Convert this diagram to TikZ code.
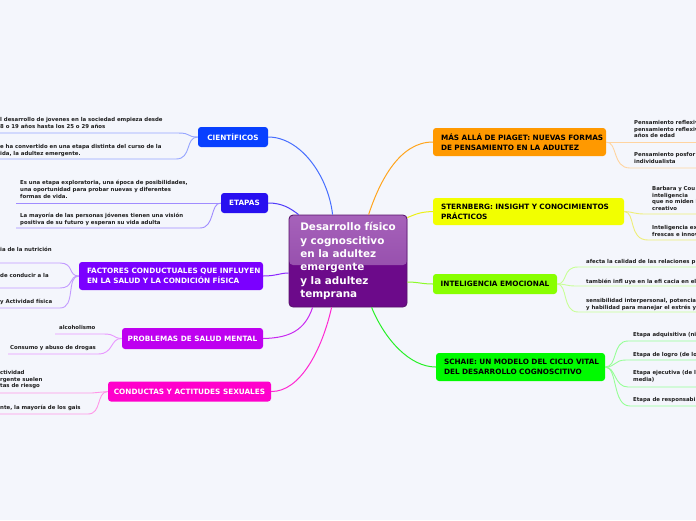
\documentclass[tikz,border=0pt]{standalone}
\usepackage{fontspec}
\setsansfont{DejaVu Sans}
\definecolor{bg}{RGB}{244,246,252}
\definecolor{ctopA}{RGB}{166,98,186}
\definecolor{ctopB}{RGB}{140,66,164}
\definecolor{cbot}{RGB}{108,10,138}
\definecolor{cbord}{RGB}{86,16,106}
\definecolor{csci}{RGB}{8,64,255}
\definecolor{ceta}{RGB}{40,16,240}
\definecolor{cfac}{RGB}{123,0,255}
\definecolor{cpro}{RGB}{190,0,240}
\definecolor{ccon}{RGB}{255,0,204}
\definecolor{cpia}{RGB}{255,153,0}
\definecolor{cste}{RGB}{242,255,0}
\definecolor{cemo}{RGB}{136,255,0}
\definecolor{csch}{RGB}{0,250,0}
\definecolor{lsci}{RGB}{70,110,255}
\definecolor{leta}{RGB}{80,60,250}
\definecolor{lfac}{RGB}{140,40,255}
\definecolor{lpro}{RGB}{200,40,240}
\definecolor{lcon}{RGB}{255,40,210}
\definecolor{lpia}{RGB}{255,165,30}
\definecolor{lste}{RGB}{236,240,20}
\definecolor{lemo}{RGB}{140,250,40}
\definecolor{lsch}{RGB}{40,240,40}
\definecolor{ssci}{RGB}{150,165,255}
\definecolor{seta}{RGB}{160,140,255}
\definecolor{sfac}{RGB}{195,155,255}
\definecolor{spro}{RGB}{232,150,255}
\definecolor{scon}{RGB}{255,150,232}
\definecolor{spia}{RGB}{255,212,160}
\definecolor{sste}{RGB}{238,238,120}
\definecolor{semo}{RGB}{200,255,150}
\definecolor{ssch}{RGB}{150,255,150}
\definecolor{txt}{RGB}{30,30,30}
\begin{document}
\begin{tikzpicture}[x=1pt,y=-1pt,
  mbox/.style={rectangle, rounded corners=3pt, inner sep=0pt, font=\sffamily\bfseries\fontsize{7.3}{10}\selectfont},
  mbox2/.style={mbox, inner xsep=8pt, align=left},
  ct/.style={inner sep=0pt, anchor=north west, align=left, text=txt, font=\sffamily\bfseries\fontsize{5.4}{6.8}\selectfont},
  link/.style={line width=1pt},
  sub/.style={line width=0.9pt}]
\useasboundingbox (0,0) rectangle (696,520);
\fill[bg] (0,0) rectangle (696,520);
\clip (0,0) rectangle (696,520);

% central node
\node[draw=cbord, line width=0.8pt, fill=cbot, rounded corners=4pt,
  minimum width=118pt, minimum height=92pt, inner sep=0pt, text=white, align=left,
  font=\sffamily\bfseries\fontsize{10.4}{13.3}\selectfont,
  path picture={\shade[top color=ctopA, bottom color=ctopB]
     (path picture bounding box.north west) rectangle ([yshift=-50pt]path picture bounding box.north east);}]
  (c) at (348,261) {Desarrollo físico\\y cognoscitivo\\en la adultez\\emergente\\y la adultez\\temprana};

% main boxes
\node[mbox, fill=csci, text=white, minimum width=70pt, minimum height=20pt] (sci) at (233,137) {CIENTÍFICOS};
\node[mbox, fill=ceta, text=white, minimum width=47pt, minimum height=20pt] (eta) at (244.5,203) {ETAPAS};
\node[mbox2, fill=cfac, text=white, text width=168pt, minimum height=28pt] (fac) at (171,276)
  {\mbox{FACTORES CONDUCTUALES QUE INFLUYEN}\\\mbox{EN LA SALUD Y LA CONDICIÓN FÍSICA}};
\node[mbox, fill=cpro, text=white, minimum width=141pt, minimum height=21pt] (pro) at (192.5,338.5) {PROBLEMAS DE SALUD MENTAL};
\node[mbox, fill=ccon, text=white, minimum width=163pt, minimum height=20pt] (con) at (189.5,391.5) {CONDUCTAS Y ACTITUDES SEXUALES};
\node[mbox2, fill=cpia, text=black, text width=157pt, minimum height=28pt] (pia) at (519.5,142)
  {\mbox{MÁS ALLÁ DE PIAGET: NUEVAS FORMAS}\\\mbox{DE PENSAMIENTO EN LA ADULTEZ}};
\node[mbox2, fill=cste, text=black, text width=175pt, minimum height=27pt] (ste) at (528.5,211.5)
  {\mbox{STERNBERG: INSIGHT Y CONOCIMIENTOS}\\\mbox{PRÁCTICOS}};
\node[mbox, fill=cemo, text=black, minimum width=124pt, minimum height=20pt] (emo) at (495,284) {INTELIGENCIA EMOCIONAL};
\node[mbox2, fill=csch, text=black, text width=153pt, minimum height=28pt] (sch) at (520.5,367)
  {\mbox{SCHAIE: UN MODELO DEL CICLO VITAL}\\\mbox{DEL DESARROLLO COGNOSCITIVO}};

% child texts, left
\node[ct] (s1) at (0,117) {l desarrollo de jovenes en la sociedad empieza desde\\8 o 19 años hasta los 25 o 29 años};
\node[ct] (s2) at (0,144) {e ha convertido en una etapa distinta del curso de la\\ida, la adultez emergente.};
\node[ct] (e1) at (20,180) {Es una etapa exploratoria, una época de posibilidades,\\una oportunidad para probar nuevas y diferentes\\formas de vida.};
\node[ct] (e2) at (20,213) {La mayoría de las personas jóvenes tienen una visión\\positiva de su futuro y esperan su vida adulta};
\node[ct] (f1) at (0,247) {ia de la nutrición};
\node[ct] (f2) at (0,273) {de conducir a la};
\node[ct] (f3) at (0,299) {y Actividad física};
\node[ct] (p1) at (59,325) {alcoholismo};
\node[ct] (p2) at (10,345) {Consumo y abuso de drogas};
\node[ct] (k1) at (0,370) {ctividad\\rgente suelen\\tas de riesgo};
\node[ct] (k2) at (0,405) {nte, la mayoría de los gais};

% child texts, right
\node[ct] (a1) at (634,120) {Pensamiento reflexiv\\pensamiento reflexiv\\años de edad};
\node[ct] (a2) at (634,152) {Pensamiento posfor\\individualista};
\node[ct] (b1) at (652,186) {Barbara y Cou\\inteligencia\\que no miden l\\creativo};
\node[ct] (b2) at (652,225) {Inteligencia ex\\frescas e innov};
\node[ct] (m1) at (586,259) {afecta la calidad de las relaciones p};
\node[ct] (m2) at (586,279) {también infl uye en la efi cacia en el};
\node[ct] (m3) at (586,298) {sensibilidad interpersonal, potencia\\y habilidad para manejar el estrés y};
\node[ct] (h1) at (633,332) {Etapa adquisitiva (ni};
\node[ct] (h2) at (633,352) {Etapa de logro (de lo};
\node[ct] (h3) at (633,370) {Etapa ejecutiva (de l\\media)};
\node[ct] (h4) at (633,397) {Etapa de responsabi};

% main connectors
\draw[link, lsci] (sci.east) .. controls (300,137) and (328,175) .. ([xshift=44pt]c.north west);
\draw[link, leta] (eta.east) .. controls (282,203) and (290,208) .. ([xshift=10pt]c.north west);
\draw[link, lfac] (fac.east) .. controls (276,276) and (280,273) .. ([yshift=-12pt]c.west);
\draw[link, lpro] (pro.east) .. controls (290,338) and (305,330) .. ([xshift=24pt]c.south west);
\draw[link, lcon] (con.east) .. controls (300,392) and (322,350) .. ([xshift=43pt]c.south west);
\draw[link, lpia] ([xshift=80pt]c.north west) .. controls (380,180) and (400,142) .. (pia.west);
\draw[link, lste] ([yshift=-3pt]c.north east) .. controls (418,213) and (422,212) .. (ste.west);
\draw[link, lemo] ([yshift=-21pt]c.east) .. controls (418,282) and (422,284) .. (emo.west);
\draw[link, lsch] ([xshift=83pt]c.south west) .. controls (385,340) and (410,367) .. (sch.west);

% child connectors, left
\draw[sub, ssci] (sci.west) .. controls (186,137) and (192,133) .. (178,133) -- (0,133);
\draw[sub, ssci] (sci.west) .. controls (185,137) and (192,159) .. (176,159) -- (0,159);
\draw[sub, seta] (eta.west) -- (16,203);
\draw[sub, seta] (eta.west) .. controls (210,203) and (215,228) .. (200,228) -- (16,228);
\draw[sub, sfac] (fac.west) .. controls (68,276) and (74,263) .. (60,263) -- (0,263);
\draw[sub, sfac] (fac.west) .. controls (68,276) and (74,288) .. (60,288) -- (0,288);
\draw[sub, sfac] (fac.west) .. controls (66,276) and (76,308) .. (60,308) -- (0,308);
\draw[sub, spro] (pro.west) .. controls (112,338) and (116,334) .. (104,334) -- (55,334);
\draw[sub, spro] (pro.west) .. controls (110,338) and (114,354) .. (98,354) -- (8,354);
\draw[sub, scon] (con.west) .. controls (100,392) and (100,393) .. (92,393) -- (0,393);
\draw[sub, scon] (con.west) .. controls (96,392) and (102,414) .. (88,414) -- (0,414);

% child connectors, right
\draw[sub, spia] (pia.east) -- (696,142);
\draw[sub, spia] (pia.east) .. controls (618,142) and (612,168) .. (630,168) -- (696,168);
\draw[sub, sste] (ste.east) .. controls (634,212) and (634,214) .. (645,214) -- (696,214);
\draw[sub, sste] (ste.east) .. controls (636,212) and (628,240) .. (648,240) -- (696,240);
\draw[sub, semo] (emo.east) .. controls (568,284) and (562,267) .. (578,267) -- (696,267);
\draw[sub, semo] (emo.east) .. controls (566,284) and (566,286) .. (576,286) -- (696,286);
\draw[sub, semo] (emo.east) .. controls (568,284) and (562,312) .. (578,312) -- (696,312);
\draw[sub, ssch] (sch.east) .. controls (618,367) and (612,341) .. (628,341) -- (696,341);
\draw[sub, ssch] (sch.east) .. controls (616,367) and (614,360) .. (626,360) -- (696,360);
\draw[sub, ssch] (sch.east) .. controls (616,367) and (614,387) .. (628,387) -- (696,387);
\draw[sub, ssch] (sch.east) .. controls (618,367) and (612,406) .. (630,406) -- (696,406);
\end{tikzpicture}
\end{document}
